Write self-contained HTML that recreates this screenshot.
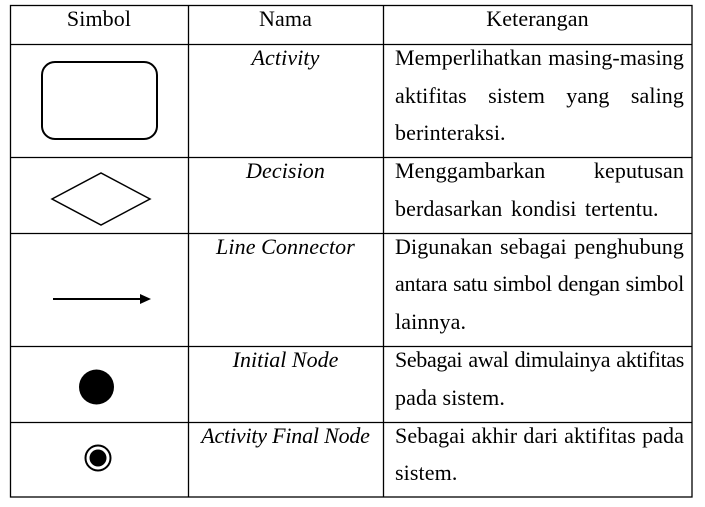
<!DOCTYPE html>
<html><head><meta charset="utf-8"><style>
body{margin:0;width:705px;height:507px;background:#fff;position:relative;overflow:hidden;font-family:"Liberation Serif","Times New Roman",serif;font-size:22px;letter-spacing:0.1px;color:#000}
.l{position:absolute;line-height:24px;height:24px;white-space:nowrap}
.j{text-align:justify;text-align-last:justify;left:395px;width:289px}
.n{left:395px}
.c{text-align:center}
.i{font-style:italic}
</style></head><body>
<svg width="705" height="507" style="position:absolute;left:0;top:0">
<g stroke="#000" stroke-width="1.3" fill="none">
<rect x="10.5" y="5.5" width="681.5" height="491.5"/>
<line x1="188.5" y1="5" x2="188.5" y2="497"/>
<line x1="383.5" y1="5" x2="383.5" y2="497"/>
<line x1="10" y1="44.5" x2="692" y2="44.5"/>
<line x1="10" y1="157.5" x2="692" y2="157.5"/>
<line x1="10" y1="233.5" x2="692" y2="233.5"/>
<line x1="10" y1="346.5" x2="692" y2="346.5"/>
<line x1="10" y1="422.5" x2="692" y2="422.5"/>
</g>
<rect x="42" y="62" width="115" height="77" rx="13" fill="none" stroke="#000" stroke-width="2"/>
<polygon points="52,199 101,173 150,199 101,225" fill="none" stroke="#000" stroke-width="1.5"/>
<line x1="53" y1="299" x2="142" y2="299" stroke="#000" stroke-width="2"/>
<polygon points="151,299 140,294 140,304" fill="#000"/>
<circle cx="96.5" cy="387" r="17.5" fill="#000"/>
<circle cx="98" cy="458" r="12.5" fill="none" stroke="#000" stroke-width="2"/>
<circle cx="98" cy="458" r="8.5" fill="#000"/>
</svg>
<div class="l c" style="left:10px;width:178px;top:7px">Simbol</div>
<div class="l c" style="left:188px;width:195px;top:7px">Nama</div>
<div class="l c" style="left:383px;width:309px;top:7px">Keterangan</div>

<div class="l c i" style="left:188px;width:195px;top:46px">Activity</div>
<div class="l j" style="top:46px">Memperlihatkan masing-masing</div>
<div class="l j" style="top:84px">aktifitas sistem yang saling</div>
<div class="l n" style="top:121px">berinteraksi.</div>

<div class="l c i" style="left:188px;width:195px;top:159px">Decision</div>
<div class="l j" style="top:159px">Menggambarkan keputusan</div>
<div class="l n" style="top:197px;word-spacing:3px">berdasarkan kondisi tertentu.</div>

<div class="l c i" style="left:188px;width:195px;top:235px">Line Connector</div>
<div class="l j" style="top:235px">Digunakan sebagai penghubung</div>
<div class="l j" style="top:272px;letter-spacing:-0.25px">antara satu simbol dengan simbol</div>
<div class="l n" style="top:310px">lainnya.</div>

<div class="l c i" style="left:188px;width:195px;top:348px;letter-spacing:0">Initial Node</div>
<div class="l j" style="top:348px;letter-spacing:-0.35px">Sebagai awal dimulainya aktifitas</div>
<div class="l n" style="top:386px">pada sistem.</div>

<div class="l c i" style="left:188px;width:195px;top:424px;letter-spacing:-0.2px">Activity Final Node</div>
<div class="l j" style="top:424px">Sebagai akhir dari aktifitas pada</div>
<div class="l n" style="top:461px">sistem.</div>
</body></html>
